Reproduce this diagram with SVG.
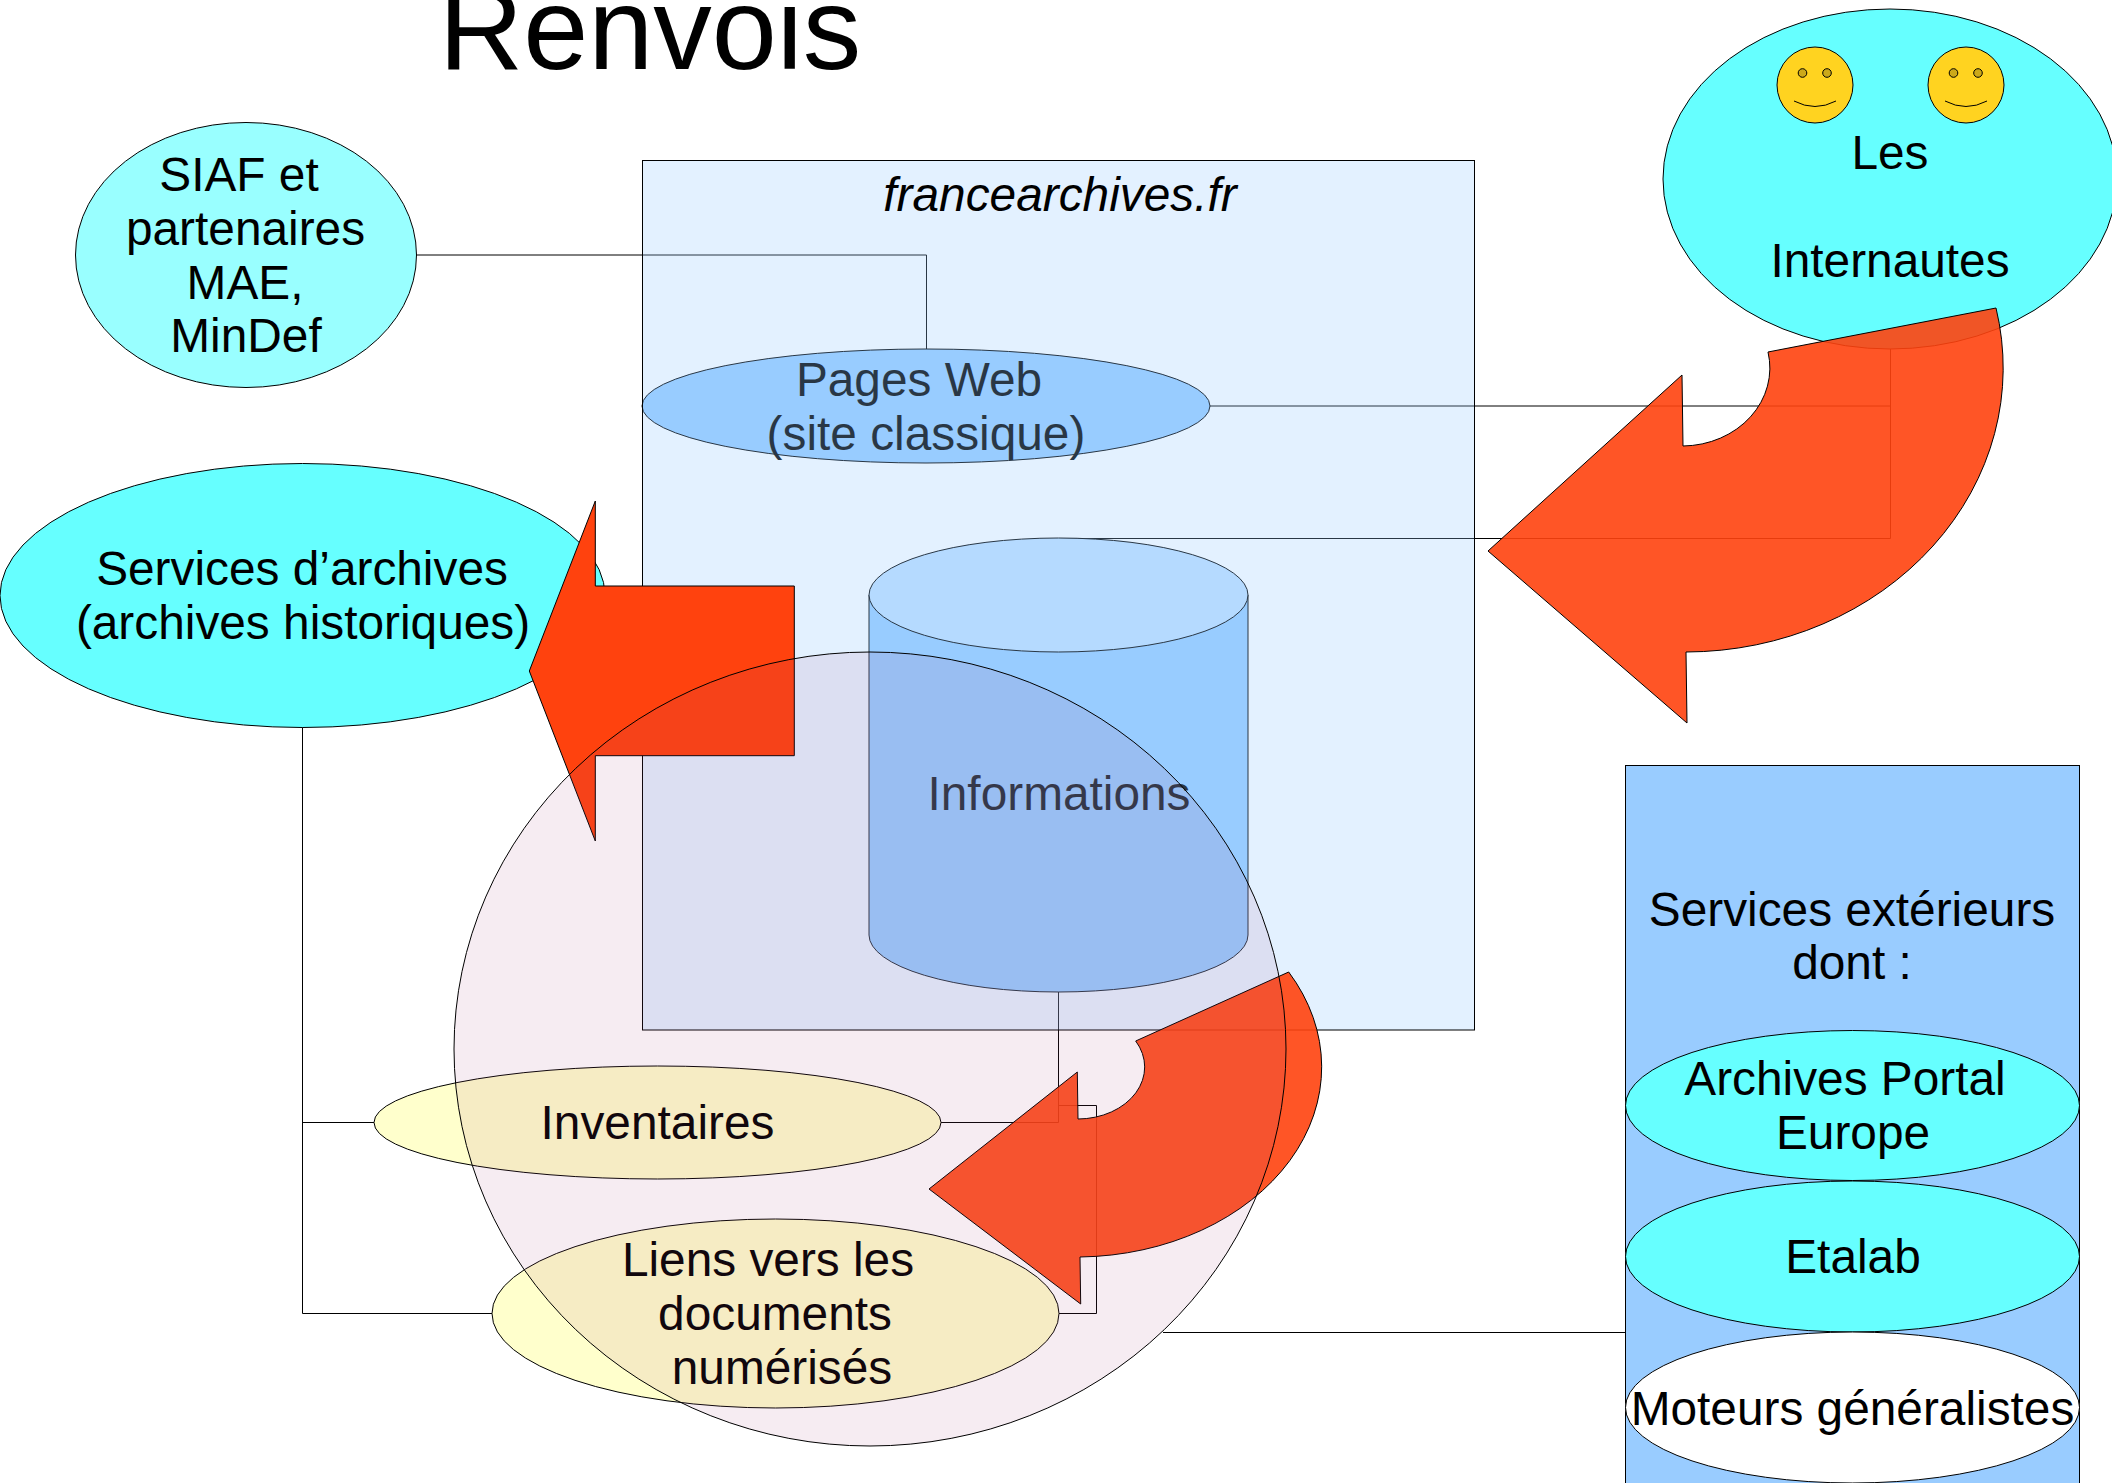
<svg xmlns="http://www.w3.org/2000/svg" width="2112" height="1483" viewBox="0 0 2112 1483">
<style>
text{font-family:"Liberation Sans",Arial,sans-serif;font-size:47.800px;fill:#000;text-anchor:middle}
.s{stroke:#000;stroke-width:1}
.cyan{fill:#66ffff}
.blue{fill:#99ccff}
.yel{fill:#ffffcc}
.face{fill:#ffd320}
.eye{fill:#cca91a}
.mouth{fill:none}
.curved{fill:#ff420e;fill-opacity:.9}
#connectors path{fill:none;stroke:#000;stroke-width:1}
</style>
<rect width="2112" height="1483" fill="#fff"/>
<g id="title"><text x="650" y="68.500" style="font-size:117px">Renvois</text></g>
<g id="connectors">
<path d="M416 255H926.500V350"/>
<path d="M1209 406H1890.500V349"/>
<path d="M1890.500 406V538.500H1058"/>
<path d="M302.500 727V1313.500H492"/>
<path d="M302.500 1122.500H374"/>
<path d="M941 1122.500H1058.500V992"/>
<path d="M1059 1313.500H1096.500V1105.500H1058.500"/>
<path d="M1163 1332.500H1625"/>
</g>
<g id="siaf">
<ellipse class="s" cx="246" cy="255" rx="170.500" ry="132.500" fill="#99ffff"/>
<text x="239" y="191">SIAF et</text>
<text x="245.500" y="245">partenaires</text>
<text x="245" y="299">MAE,</text>
<text x="246" y="352">MinDef</text>
</g>
<g id="services-archives">
<ellipse class="s cyan" cx="302.500" cy="595.500" rx="302.500" ry="132"/>
<text x="302" y="585">Services d’archives</text>
<text x="303" y="639">(archives historiques)</text>
</g>
<g id="internautes">
<ellipse class="s cyan" cx="1890" cy="179" rx="227" ry="170"/>
<text x="1890" y="169">Les</text>
<text x="1890" y="277">Internautes</text>
</g>
<g id="smiley-1">
<circle class="s face" cx="1815" cy="85" r="38"/>
<circle class="s eye" cx="1802.500" cy="73" r="4.300"/>
<circle class="s eye" cx="1827" cy="73" r="4.300"/>
<path class="s mouth" d="M1794 101Q1815 112 1836 101"/>
</g>
<g id="smiley-2">
<circle class="s face" cx="1966" cy="85" r="38"/>
<circle class="s eye" cx="1953.500" cy="73" r="4.300"/>
<circle class="s eye" cx="1978" cy="73" r="4.300"/>
<path class="s mouth" d="M1945 101Q1966 112 1987 101"/>
</g>
<g id="pages-web">
<ellipse class="s blue" cx="926" cy="406" rx="284" ry="57"/>
<text x="919" y="396">Pages Web</text>
<text x="926" y="450">(site classique)</text>
</g>
<g id="informations">
<path class="s blue" d="M869 595V935A189.500 57 0 0 0 1248 935V595Z"/>
<ellipse class="s" cx="1058.500" cy="595" rx="189.500" ry="57" fill="#c0e0ff"/>
<text x="1059" y="810">Informations</text>
</g>
<g id="inventaires">
<ellipse class="s yel" cx="657.500" cy="1122.500" rx="283.500" ry="56.500"/>
<text x="657.500" y="1139">Inventaires</text>
</g>
<g id="liens">
<ellipse class="s yel" cx="775.500" cy="1313.500" rx="283.500" ry="94.500"/>
<text x="768" y="1276">Liens vers les</text>
<text x="775" y="1330">documents</text>
<text x="782" y="1384">numérisés</text>
</g>
<g id="francearchives">
<rect class="s" x="642.500" y="160.500" width="832" height="869.500" fill="#99ccff" fill-opacity=".27"/>
<text x="1060" y="211" font-style="italic">francearchives.fr</text>
</g>
<g id="services-exterieurs">
<rect class="s blue" x="1625.500" y="765.500" width="454" height="740"/>
<text x="1852" y="926">Services extérieurs</text>
<text x="1852" y="979">dont :</text>
</g>
<g id="archives-portal">
<ellipse class="s cyan" cx="1852.500" cy="1105.500" rx="227" ry="75"/>
<text x="1845" y="1095">Archives Portal</text>
<text x="1853" y="1149">Europe</text>
</g>
<g id="etalab">
<ellipse class="s cyan" cx="1852.500" cy="1256.500" rx="227" ry="75.500"/>
<text x="1853" y="1273">Etalab</text>
</g>
<g id="moteurs">
<ellipse class="s" cx="1852.500" cy="1407.500" rx="227" ry="75.500" fill="#fff"/>
<text x="1852.500" y="1425">Moteurs généralistes</text>
</g>
<g id="arrow-internautes">
<path class="s curved" d="M1488 551L1682 375L1683 446A88 78 0 0 0 1768 352L1996 308A318 284 0 0 1 1686 652L1687 723Z"/>
</g>
<g id="arrow-liens">
<path class="s curved" d="M929 1189L1077.300 1072L1078 1119A67 52 0 0 0 1135.700 1041L1288.700 972A246 190 0 0 1 1080 1257L1080.700 1304Z"/>
</g>
<g id="arrow-services">
<path class="s" fill="#ff420e" d="M529.300 671L595.300 501V586H794.300V755.700H595.300V841Z"/>
</g>
<g id="cercle">
<ellipse class="s" cx="870" cy="1049" rx="416" ry="397" fill="#a5417d" fill-opacity=".1"/>
</g>
</svg>
